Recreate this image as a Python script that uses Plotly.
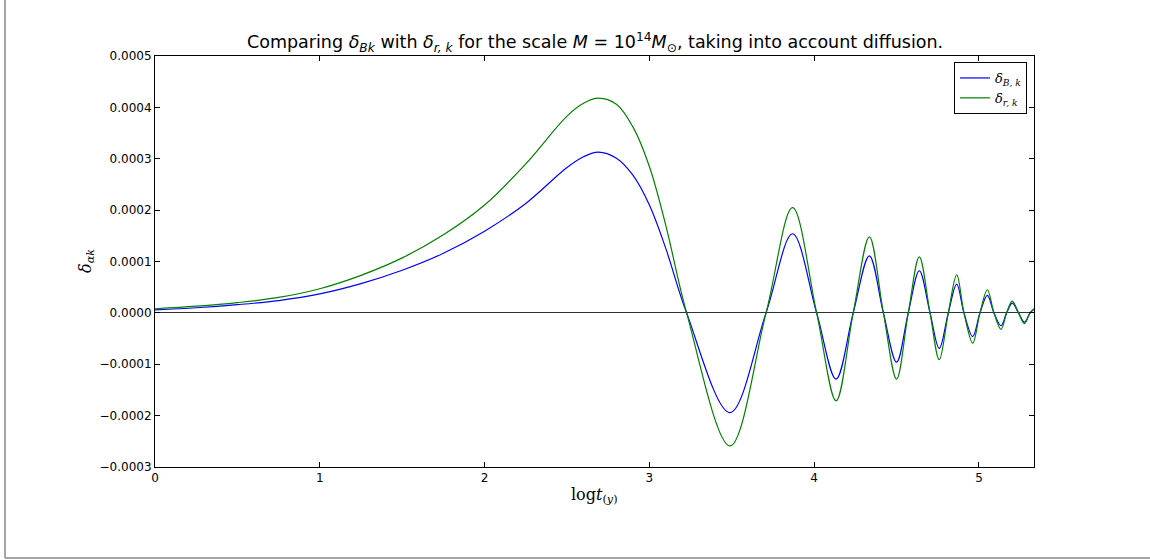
import plotly.graph_objects as go

# log t (years) sample positions
log_t = [0.00, 0.25, 0.50, 0.75, 1.00, 1.25, 1.50, 1.75, 2.00, 2.25, 2.50,
         2.60, 2.69, 2.80, 2.90, 3.00, 3.10, 3.226, 3.489, 3.708, 3.869,
         4.015, 4.133, 4.237, 4.335, 4.42, 4.50, 4.571, 4.638, 4.703, 4.759,
         4.814, 4.865, 4.909, 4.962, 5.006, 5.051, 5.091, 5.134, 5.168, 5.202,
         5.24, 5.276, 5.31, 5.334]

# baryon density contrast
delta_B = [6e-6, 1.0e-5, 1.6e-5, 2.4e-5, 3.7e-5, 5.7e-5, 8.3e-5, 1.16e-4,
           1.59e-4, 2.13e-4, 2.83e-4, 3.04e-4, 3.13e-4, 3.01e-4, 2.68e-4,
           2.10e-4, 1.25e-4, 0.0, -1.94e-4, 0.0, 1.54e-4, 0.0, -1.29e-4, 0.0,
           1.11e-4, 0.0, -9.6e-5, 0.0, 8.2e-5, 0.0, -6.9e-5, 0.0, 5.6e-5, 0.0,
           -4.6e-5, 0.0, 3.4e-5, 0.0, -2.5e-5, 0.0, 1.9e-5, 0.0, -1.8e-5, 0.0,
           7e-6]

# radiation density contrast
delta_r = [8e-6, 1.3e-5, 2.0e-5, 3.0e-5, 4.7e-5, 7.3e-5, 1.07e-4, 1.52e-4,
           2.10e-4, 2.90e-4, 3.83e-4, 4.08e-4, 4.18e-4, 4.06e-4, 3.62e-4,
           2.85e-4, 1.70e-4, 0.0, -2.59e-4, 0.0, 2.05e-4, 0.0, -1.71e-4, 0.0,
           1.48e-4, 0.0, -1.29e-4, 0.0, 1.09e-4, 0.0, -9.1e-5, 0.0, 7.4e-5, 0.0,
           -5.9e-5, 0.0, 4.5e-5, 0.0, -3.2e-5, 0.0, 2.3e-5, 0.0, -2.1e-5, 0.0,
           8e-6]

x_ticks = [0, 1, 2, 3, 4, 5]
y_ticks = [-0.0003, -0.0002, -0.0001, 0.0, 0.0001, 0.0002, 0.0003, 0.0004, 0.0005]

W, H = 1150, 560
L, R, T, B = 155, 1150 - 1034, 56, 560 - 467
pw, ph = W - L - R, H - T - B

fig = go.Figure()
fig.add_trace(go.Scatter(
    x=log_t, y=delta_B, mode="lines", name="<i>δ</i><sub><i>B, k</i></sub>",
    line=dict(color="#0000ff", width=1.2, shape="spline", smoothing=1.0),
))
fig.add_trace(go.Scatter(
    x=log_t, y=delta_r, mode="lines", name="<i>δ</i><sub><i>r, k</i></sub>",
    line=dict(color="#008000", width=1.2, shape="spline", smoothing=1.0),
))

axis_common = dict(
    showgrid=False, showline=True, linecolor="black", linewidth=1,
    mirror="ticks", ticks="inside", ticklen=5, tickcolor="black",
    tickfont=dict(family="DejaVu Sans", size=12, color="black"),
)
fig.update_xaxes(range=[0, 5.334], tickvals=x_ticks, zeroline=False, **axis_common)
fig.update_yaxes(range=[-0.0003, 0.0005], tickvals=y_ticks, tickformat=".4f",
                 zeroline=True, zerolinecolor="#333333", zerolinewidth=1,
                 **axis_common)

serif = "DejaVu Serif"
annotations = [
    dict(text="Comparing <i>δ</i><sub><i>Bk</i></sub> with <i>δ</i><sub><i>r, k</i></sub> "
              "for the scale <i>M</i> = 10<sup>14</sup><i>M</i><sub>⊙</sub>, "
              "taking into account diffusion.",
         x=0.5, y=1, xref="paper", yref="paper", xanchor="center", yanchor="bottom",
         yshift=-1, showarrow=False,
         font=dict(family="DejaVu Sans", size=17.5, color="black")),
    dict(text="log<i>t</i><sub>(<i>y</i>)</sub>",
         x=0.5, y=0, xref="paper", yref="paper", xanchor="center", yanchor="top",
         yshift=-16, showarrow=False,
         font=dict(family=serif, size=16, color="black")),
    dict(text="<i>δ</i><sub><i>αk</i></sub>",
         x=0, y=0.5, xref="paper", yref="paper", xanchor="right", yanchor="middle",
         xshift=-56, textangle=-90, showarrow=False,
         font=dict(family=serif, size=16, color="black")),
]

# figure frame edges (left and bottom)
fx = (5 - L) / pw
fy = (467 - 558) / ph
shapes = [
    dict(type="line", xref="paper", yref="paper", x0=fx, x1=fx, y0=fy, y1=467 / ph,
         line=dict(color="#888888", width=1.5)),
    dict(type="line", xref="paper", yref="paper", x0=fx, x1=(W - L) / pw, y0=fy, y1=fy,
         line=dict(color="#888888", width=1.5)),
]

fig.update_layout(
    width=W, height=H,
    margin=dict(l=L, r=R, t=T, b=B, pad=0),
    paper_bgcolor="white", plot_bgcolor="white",
    showlegend=True,
    legend=dict(x=(1027 - L) / pw, y=(467 - 62) / ph, xanchor="right", yanchor="top",
                bordercolor="black", borderwidth=1, bgcolor="white",
                font=dict(family=serif, size=13, color="black"),
                itemwidth=30, tracegroupgap=0),
    annotations=annotations,
    shapes=shapes,
)

fig.write_html("out.html")
